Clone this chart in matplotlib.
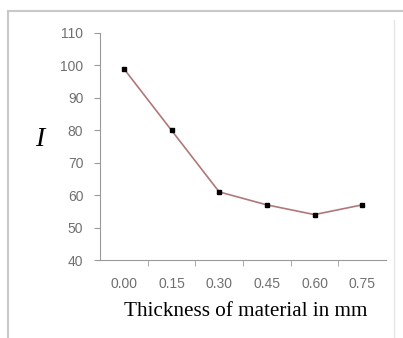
import matplotlib
matplotlib.use('Agg')
import matplotlib.pyplot as plt
from matplotlib.lines import Line2D

# data
thickness = ['0.00', '0.15', '0.30', '0.45', '0.60', '0.75']
intensity = [99, 80, 61, 57, 54, 57]
y_ticks = [40, 50, 60, 70, 80, 90, 100, 110]

W, H = 403, 338
fig = plt.figure(figsize=(W / 100, H / 100), dpi=100)
fig.patch.set_facecolor('white')

ax = fig.add_axes([100 / W, 1 - 260 / H, 286 / W, 227 / H])

# categories sit in the middle of their slots, like a spreadsheet line chart
x = [i + 0.5 for i in range(len(thickness))]
ax.plot(x, intensity, color='#b07878', lw=1.2, zorder=2)
ax.plot(x, intensity, ls='none', marker='s', ms=3.5, color='black', zorder=3)

ax.set_xlim(0, len(thickness))
ax.set_ylim(40, 110)
ax.set_yticks(y_ticks)
ax.set_xticks(x)
ax.set_xticklabels(thickness)
ax.set_xticks(range(1, len(thickness)), minor=True)

for s in ['top', 'right']:
    ax.spines[s].set_visible(False)
for s in ['left', 'bottom']:
    ax.spines[s].set_color('#9a9a9a')
    ax.spines[s].set_linewidth(0.8)

ax.tick_params(axis='y', length=4, color='#9a9a9a', labelsize=10, labelcolor='#707070', pad=8)
ax.tick_params(axis='x', which='major', length=0, labelsize=10, labelcolor='#707070', pad=12)
ax.tick_params(axis='x', which='minor', length=4, color='#9a9a9a', direction='out')
for lab in ax.get_xticklabels() + ax.get_yticklabels():
    lab.set_family('Liberation Sans')

fig.text(245.5 / W, 1 - 312 / H, 'Thickness of material in mm',
         family='Liberation Serif', fontsize=15.2, ha='center', va='center')
fig.text(40 / W, 1 - 140 / H, 'I', family='Liberation Serif', style='italic',
         fontsize=20, ha='center', va='center')

# outer frame
gray = '#c8c8c8'
fig.add_artist(Line2D([8 / W, 8 / W], [0, 1 - 11 / H], color=gray, lw=1.5))
fig.add_artist(Line2D([8 / W, 1], [1 - 11 / H, 1 - 11 / H], color=gray, lw=1.5))
fig.add_artist(Line2D([394 / W, 394 / W], [0, 1 - 20 / H], color='#e6e6e6', lw=1))

fig.savefig('out.png', dpi=100)
